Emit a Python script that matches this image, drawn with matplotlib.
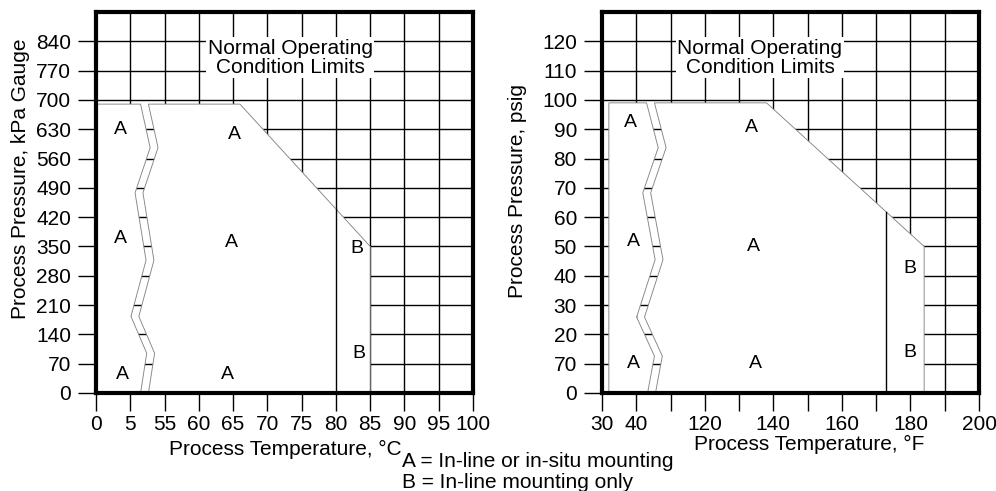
import numpy as np
import matplotlib
matplotlib.use('Agg')
from matplotlib import pyplot as plt
from matplotlib.patches import Polygon

plt.rcParams['font.family'] = ['Liberation Sans', 'DejaVu Sans']

# ---- left chart, metric ----
c_ticks = [0, 5, 55, 60, 65, 70, 75, 80, 85, 90, 95, 100]   # broken axis, one grid column each
c_labels = ['0', '5', '55', '60', '65', '70', '75', '80', '85', '90', '95', '100']
kpa_ticks = [0, 70, 140, 210, 280, 350, 420, 490, 560, 630, 700, 770, 840]
kpa_labels = [str(v) for v in kpa_ticks]
kpa_top = 690        # max pressure
c_min = 0
c_corner = 66        # temperature where the limit starts to slope
c_line_b = 80        # A / B boundary
c_max = 85
kpa_at_max = 350
# break symbol (zigzag), x in grid columns
c_break_x = [1.30, 1.58, 1.14, 1.46, 1.02, 1.48, 1.30]
c_break_y = [690, 586, 478, 317, 183, 95, 0]
c_lab_x = [3.6, 65.2, 3.6, 64.7, 83.0, 83.4, 3.8, 64.2]
c_lab_y = [629, 617, 370, 359, 344, 95, 43, 43]
c_lab_t = ['A', 'A', 'A', 'A', 'B', 'B', 'A', 'A']

# ---- right chart, imperial ----
f_ticks = [30, 40, 110, 120, 130, 140, 150, 160, 170, 180, 190, 200]
f_labels = ['30', '40', '', '120', '', '140', '', '160', '', '180', '', '200']
psi_ticks = [0, 10, 20, 30, 40, 50, 60, 70, 80, 90, 100, 110, 120]
psi_labels = ['0', '70', '20', '30', '40', '50', '60', '70', '80', '90', '100', '110', '120']
psi_top = 99
f_min = 32
f_corner = 138
f_line_b = 173
f_max = 184
psi_at_max = 50
f_break_x = [1.30, 1.64, 1.19, 1.55, 1.01, 1.53, 1.33]
f_break_y = [99, 83.7, 68.3, 45.5, 25.9, 12.6, 0]
f_lab_x = [38.2, 133.7, 39.1, 134.3, 179.7, 179.9, 39.3, 134.9]
f_lab_y = [92.2, 90.5, 51.7, 50, 42.6, 13.9, 10.2, 10.2]
f_lab_t = ['A', 'A', 'A', 'A', 'B', 'B', 'A', 'A']

break_gap = 0.23
edge = '#858585'


def draw(ax, ticks, labels, yticks, ylabels, ytop, tmin, top, corner, line_b, tmax, y_at_max,
         bx, by, lx, ly, lt):
    cols = np.arange(len(ticks))
    pos = lambda t: np.interp(t, ticks, cols)
    bx = np.array(bx)
    by = np.array(by)

    ax.set_xlim(0, len(ticks) - 1)
    ax.set_ylim(0, ytop)
    ax.set_xticks(cols)
    ax.set_xticklabels(labels)
    ax.set_yticks(yticks)
    ax.set_yticklabels(ylabels)
    ax.set_axisbelow(True)
    ax.grid(True, color='black', linewidth=1)

    left_piece = [(pos(tmin), 0), (pos(tmin), top)] + list(zip(bx, by))
    ax.add_patch(Polygon(left_piece, closed=True, facecolor='white', edgecolor=edge,
                         linewidth=0.65, zorder=2))
    right_piece = [(pos(corner), top), (pos(tmax), y_at_max), (pos(tmax), 0)] + \
        list(zip(bx[::-1] + break_gap, by[::-1]))
    ax.add_patch(Polygon(right_piece, closed=True, facecolor='white', edgecolor=edge,
                         linewidth=0.65, zorder=2))

    yb = np.interp(pos(line_b), [pos(corner), pos(tmax)], [top, y_at_max])
    ax.plot([pos(line_b), pos(line_b)], [0, yb], color='black', linewidth=1, zorder=3)

    for x, y, t in zip(lx, ly, lt):
        ax.text(pos(x), y, t, ha='center', va='center', fontsize=14, zorder=4)

    for s in ax.spines.values():
        s.set_linewidth(3)
        s.set_zorder(5)
    ax.tick_params(direction='out', length=13, width=1, labelsize=15, colors='black')
    ax.tick_params(axis='x', pad=3)
    ax.tick_params(axis='y', pad=5)


fig = plt.figure(figsize=(9.96, 4.91), dpi=100)
ax1 = fig.add_axes([96 / 996, 1 - 393 / 491, 377 / 996, 381 / 491])
ax2 = fig.add_axes([602 / 996, 1 - 393 / 491, 377 / 996, 381 / 491])

draw(ax1, c_ticks, c_labels, kpa_ticks, kpa_labels, 910, c_min, kpa_top, c_corner, c_line_b,
     c_max, kpa_at_max, c_break_x, c_break_y, c_lab_x, c_lab_y, c_lab_t)
draw(ax2, f_ticks, f_labels, psi_ticks, psi_labels, 130, f_min, psi_top, f_corner, f_line_b,
     f_max, psi_at_max, f_break_x, f_break_y, f_lab_x, f_lab_y, f_lab_t)

for ax, tx in [(ax1, 0.515), (ax2, 0.419)]:
    ax.text(tx, 0.88, 'Normal Operating\nCondition Limits', transform=ax.transAxes,
            ha='center', va='center', fontsize=15, linespacing=1.0, zorder=6,
            bbox=dict(facecolor='white', edgecolor='none', pad=1))

ax1.set_xlabel('Process Temperature, °C', fontsize=15, va='top')
ax1.xaxis.set_label_coords(0.503, -0.123)
ax2.set_xlabel('Process Temperature, °F', fontsize=15, va='top')
ax2.xaxis.set_label_coords(0.549, -0.110)
ax1.set_ylabel('Process Pressure, kPa Gauge', fontsize=15)
ax1.yaxis.set_label_coords(-0.176, 0.563)
ax2.set_ylabel('Process Pressure, psig', fontsize=15)
ax2.yaxis.set_label_coords(-0.198, 0.529)

fig.text(402 / 996, (491 - 466.7) / 491, 'A = In-line or in-situ mounting', fontsize=15,
         ha='left', va='baseline')
fig.text(402 / 996, (491 - 488) / 491, 'B = In-line mounting only', fontsize=15,
         ha='left', va='baseline')

plt.savefig('out.png', dpi=100)
